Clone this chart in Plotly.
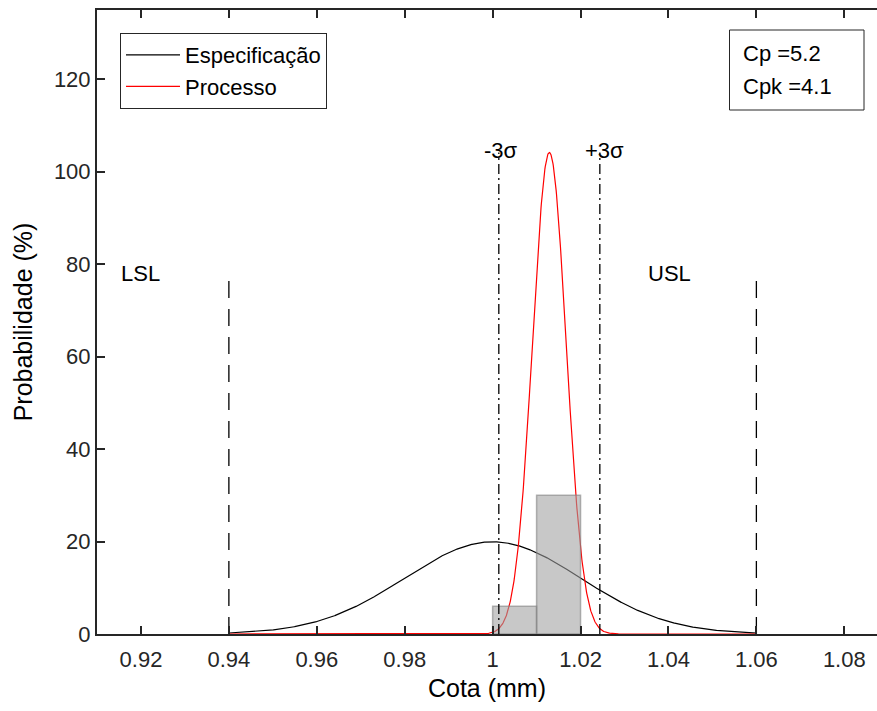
import numpy as np
import plotly.graph_objects as go

# Specification limits and nominal
LSL = 0.94
USL = 1.06
nominal = 1.00
spec_sigma = 0.02

# Process estimate (mean, std. deviation) and capability indices
proc_mean = 1.0129
proc_sigma = 0.00383
Cp = 5.2
Cpk = 4.1

# Histogram of measured parts (% per bin)
hist_edges = [1.00, 1.01, 1.02]
hist_pct = [6, 30]

# Heights of the reference lines
limit_line_top = 78

# Axis ticks
x_ticks = [0.92, 0.94, 0.96, 0.98, 1.00, 1.02, 1.04, 1.06, 1.08]
x_tick_text = ["0.92", "0.94", "0.96", "0.98", "1", "1.02", "1.04", "1.06", "1.08"]
y_ticks = [0, 20, 40, 60, 80, 100, 120]

FONT = "Liberation Sans, Arial, sans-serif"
AX = "#262626"
TXT = 22

W, H = 877, 711
ML, MR, MT, MB = 97, 0, 10, 77
PW, PH = W - ML - MR, H - MT - MB


def px_x(px):
    return (px - ML) / PW


def px_y(py):
    return (H - MB - py) / PH


def npdf(x, m, s):
    return np.exp(-0.5 * ((x - m) / s) ** 2) / (s * np.sqrt(2 * np.pi))


x = np.linspace(LSL, USL, 1500)
spec_curve = npdf(x, nominal, spec_sigma)
proc_curve = npdf(x, proc_mean, proc_sigma)
proc_peak = npdf(proc_mean, proc_mean, proc_sigma)

fig = go.Figure()

fig.add_trace(go.Scatter(x=x, y=spec_curve, mode="lines", name="Especificação",
                         line=dict(color="black", width=1.2)))
fig.add_trace(go.Scatter(x=x, y=proc_curve, mode="lines", name="Processo",
                         line=dict(color="red", width=1.2)))

# histogram bars as filled polygons so they sit above the curves
hx, hy = [], []
for left, right, h in zip(hist_edges[:-1], hist_edges[1:], hist_pct):
    hx += [left, left, right, right, left, None]
    hy += [0, h, h, 0, 0, None]
fig.add_trace(go.Scatter(x=hx, y=hy, mode="lines", fill="toself",
                         fillcolor="rgba(160,160,160,0.58)",
                         line=dict(color="rgba(130,130,130,0.6)", width=1.5),
                         showlegend=False, hoverinfo="skip"))

# specification limits
for xv in (LSL, USL):
    fig.add_trace(go.Scatter(x=[xv, xv], y=[0, limit_line_top], mode="lines",
                             line=dict(color="black", width=1.3, dash="17px,11px"),
                             showlegend=False, hoverinfo="skip"))

# +/- 3 sigma of the process
for xv in (proc_mean - 3 * proc_sigma, proc_mean + 3 * proc_sigma):
    fig.add_trace(go.Scatter(x=[xv, xv], y=[0, proc_peak], mode="lines",
                             line=dict(color="black", width=1.3, dash="10px,4px,2px,4px"),
                             showlegend=False, hoverinfo="skip"))

annotations = [
    dict(x=LSL - 0.025, y=limit_line_top, text="LSL", xanchor="left", yanchor="middle"),
    dict(x=USL - 0.025, y=limit_line_top, text="USL", xanchor="left", yanchor="middle"),
    dict(x=proc_mean - 3 * proc_sigma, y=proc_peak + 0.5, text="-3σ", xanchor="left",
         yanchor="middle", xshift=-17),
    dict(x=proc_mean + 3 * proc_sigma, y=proc_peak + 0.5, text="+3σ", xanchor="left",
         yanchor="middle", xshift=-17),
]
for a in annotations:
    a.update(xref="x", yref="y", showarrow=False, font=dict(family=FONT, size=TXT, color="black"))

# capability box
annotations += [
    dict(xref="paper", yref="paper", x=px_x(741), y=px_y(54), text=f"Cp ={Cp}",
         xanchor="left", yanchor="middle", showarrow=False,
         font=dict(family=FONT, size=TXT, color="black")),
    dict(xref="paper", yref="paper", x=px_x(741), y=px_y(86), text=f"Cpk ={Cpk}",
         xanchor="left", yanchor="middle", showarrow=False,
         font=dict(family=FONT, size=TXT, color="black")),
]
shapes = [dict(type="rect", xref="paper", yref="paper",
               x0=px_x(729.5), x1=px_x(864), y0=px_y(110), y1=px_y(30),
               line=dict(color=AX, width=1), fillcolor="white", layer="below")]

fig.update_layout(
    width=W, height=H,
    margin=dict(l=ML, r=MR, t=MT, b=MB),
    paper_bgcolor="white", plot_bgcolor="white",
    font=dict(family=FONT, size=TXT, color=AX),
    showlegend=True,
    legend=dict(x=px_x(120), y=px_y(33), xanchor="left", yanchor="top",
                bordercolor=AX, borderwidth=1, bgcolor="white",
                font=dict(family=FONT, size=TXT, color="black"),
                itemwidth=54, tracegroupgap=0),
    annotations=annotations,
    shapes=shapes,
    xaxis=dict(range=[0.91, 1.08744], tickvals=x_ticks, ticktext=x_tick_text,
               ticks="inside", ticklen=8, tickwidth=1.5, tickcolor=AX,
               showline=True, linecolor=AX, linewidth=2, mirror="ticks",
               showgrid=False, zeroline=False, ticklabelstandoff=5,
               tickfont=dict(family=FONT, size=TXT, color=AX),
               title=dict(text="Cota (mm)", standoff=8,
                          font=dict(family=FONT, size=25, color="black"))),
    yaxis=dict(range=[0, 135], tickvals=y_ticks,
               ticks="inside", ticklen=8, tickwidth=1.5, tickcolor=AX,
               showline=True, linecolor=AX, linewidth=2, mirror=False,
               showgrid=False, zeroline=False,
               tickfont=dict(family=FONT, size=TXT, color=AX),
               title=dict(text="Probabilidade (%)", standoff=14,
                          font=dict(family=FONT, size=25, color="black"))),
)

fig.write_html("out.html")
